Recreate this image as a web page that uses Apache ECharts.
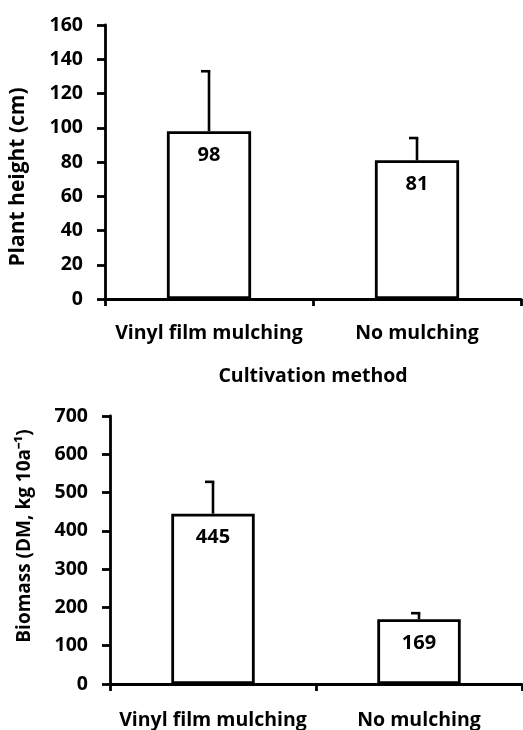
<!DOCTYPE html>
<html><head><meta charset="utf-8">
<script src="https://cdn.jsdelivr.net/npm/echarts@6/dist/echarts.min.js"></script>
<style>html,body{margin:0;padding:0;background:#fff}#c{width:523px;height:730px}</style>
</head><body><div id="c"></div>
<script>
const categories = ['Vinyl film mulching', 'No mulching'];
const heightMeans = [98, 81];
const heightSD = [35, 13];
const biomassMeans = [445, 169];
const biomassSD = [83, 16];
const heightTicks = {min: 0, max: 160, interval: 20};
const biomassTicks = {min: 0, max: 700, interval: 100};

const FONT = 'Open Sans';
const txt = (size) => ({color: '#000', fontFamily: FONT, fontWeight: 'bold', fontSize: size});
const axisLine = {show: true, lineStyle: {color: '#000', width: 2.8}};

function errSeries(xi, yi, means, sds) {
  return {
    type: 'custom', xAxisIndex: xi, yAxisIndex: yi, z: 1,
    data: means.map((m, i) => [i, m, m + sds[i]]),
    renderItem: function (params, api) {
      const base = api.coord([api.value(0), api.value(1)]);
      const top = api.coord([api.value(0), api.value(2)]);
      const x = base[0];
      return {
        type: 'group', children: [
          {type: 'line', shape: {x1: x, y1: base[1], x2: x, y2: top[1]}, style: {stroke: '#000', lineWidth: 2.6}},
          {type: 'line', shape: {x1: x - 8, y1: top[1], x2: x + 1.3, y2: top[1]}, style: {stroke: '#000', lineWidth: 2.6}}
        ]
      };
    }
  };
}
function barSeries(xi, yi, means) {
  return {
    type: 'bar', xAxisIndex: xi, yAxisIndex: yi, z: 3, barWidth: '40.5%',
    data: means,
    itemStyle: {color: '#fff', borderColor: '#000', borderWidth: 2.8},
    label: {show: true, position: 'insideTop', distance: 14, ...txt(20)}
  };
}
function xAxis(gi, name, margin) {
  return {
    type: 'category', gridIndex: gi, data: categories,
    axisLine: axisLine,
    axisTick: {show: true, length: 7, lineStyle: {color: '#000', width: 2.8}},
    axisLabel: {...txt(19.5), margin: margin, interval: 0, hideOverlap: false},
    name: name, nameLocation: 'middle', nameGap: 67, nameTextStyle: txt(19.5)
  };
}
function yAxis(gi, t, name, size, pad) {
  return {
    type: 'value', gridIndex: gi, min: t.min, max: t.max, interval: t.interval,
    axisLine: axisLine,
    axisTick: {show: true, length: 8, lineStyle: {color: '#000', width: 2.8}},
    splitLine: {show: false},
    axisLabel: {...txt(19.5), margin: 22},
    name: name, nameLocation: 'middle', nameGap: 76, nameRotate: 90,
    nameTextStyle: {...txt(size), padding: pad}
  };
}
const chart = echarts.init(document.getElementById('c'), null, {renderer: 'canvas'});
chart.setOption({
  animation: false,
  backgroundColor: '#fff',
  grid: [
    {left: 105, top: 25, right: 2, height: 274},
    {left: 110, top: 416, right: 1, height: 268}
  ],
  xAxis: [xAxis(0, 'Cultivation method', 24), xAxis(1, '', 26)],
  yAxis: [
    yAxis(0, heightTicks, 'Plant height (cm)', 21, [0, 30, 0, 0]),
    yAxis(1, biomassTicks, 'Biomass (DM, kg 10a\u207B\u00B9)', 19, [0, 0, 0, 28])
  ],
  series: [
    errSeries(0, 0, heightMeans, heightSD),
    barSeries(0, 0, heightMeans),
    errSeries(1, 1, biomassMeans, biomassSD),
    barSeries(1, 1, biomassMeans)
  ]
});
</script></body></html>
